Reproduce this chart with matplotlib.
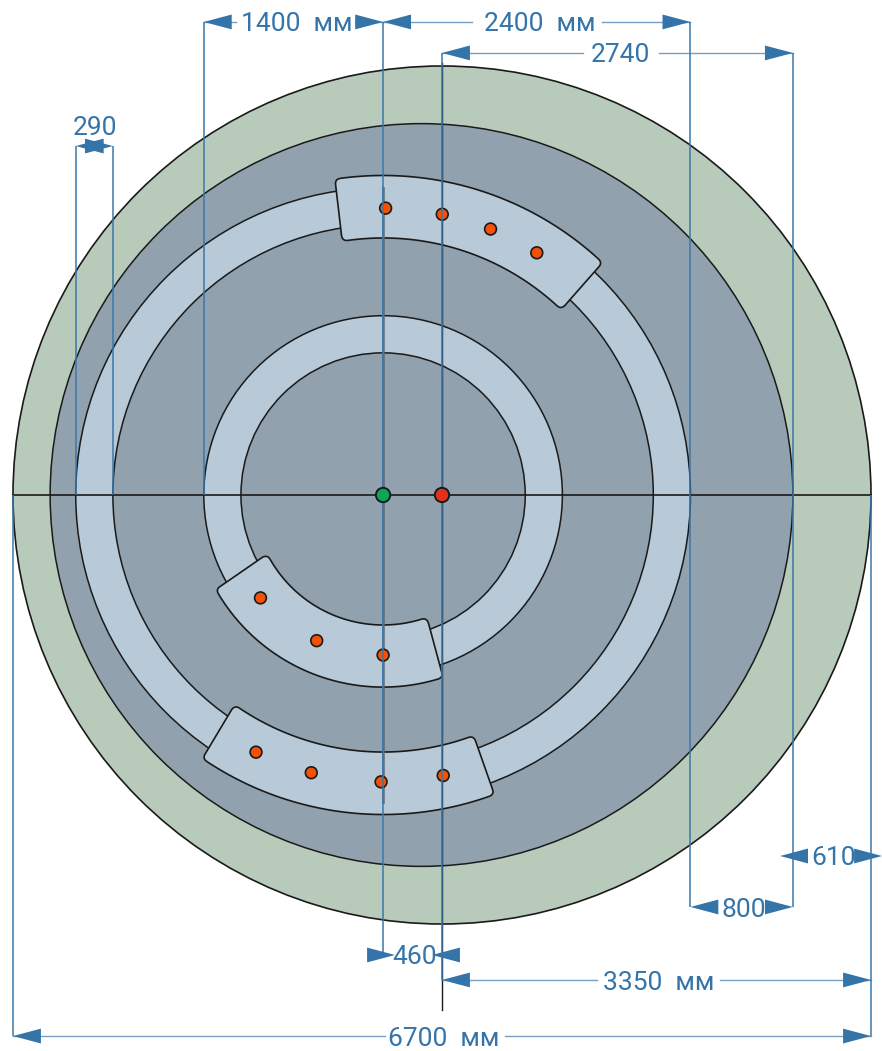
# plot.py - ring layout drawing with dimensions, all lengths in mm

import numpy as np
import matplotlib.pyplot as plt
from matplotlib.patches import Circle, Polygon

# Circles: offset of centre from the main axis, radius
pool_x, pool_r = 0, 3350
floor_x, floor_r = -160, 2900
ring_x = -460
outer_ring_radii = (2400, 2110)
inner_ring_radii = (1400, 1110)

# Segments on rings: r outer, r inner, end angles on outer and inner edge
segment_r_out = [2495, 2495, 1500]
segment_r_in = [2007, 2007, 1015]
segment_a0_out = [46.6, 235.5, 209.3]
segment_a0_in = [46.2, 234.8, 207.3]
segment_a1_out = [98.7, 290.4, 288.3]
segment_a1_in = [99.1, 290.6, 289.5]

# Holes on segments, polar around ring centre
hole_r = [2240] * 8 + [1250] * 3
hole_angle = [89.5, 78.1, 68.0, 57.6, 243.7, 255.5, 269.6, 282.1, 220.0, 245.5, 270.0]

# Dimensions
dim_labels = ["1400 мм", "2400 мм", "2740", "290", "610", "800", "460", "3350 мм", "6700 мм"]
dim_y = [3694, 3694, 3452, 2725, -2819, -3217, -3592, -3787, -4225]
dim_tip_left = [-1860, -460, 0, -2860, 2640, 1940, -367, 0, -3350]
dim_tip_right = [-460, 1940, 2740, -2570, 3436, 2740, -78, 3350, 3350]
dim_dir_left = [-1, -1, -1, -1, -1, -1, 1, -1, -1]
dim_dir_right = [1, 1, 1, 1, 1, 1, -1, 1, 1]
dim_text_x = [-1132, 765, 1390, -2710, 3061, 2354, -211, 1695, 16]
dim_text_y = [3680, 3680, 3435, 2865, -2835, -3240, -3605, -3810, -4245]
dim_gap_left = [-1609, 234, 1101, None, None, None, None, 1210, -445]
dim_gap_right = [-679, 1249, 1695, None, None, None, None, 2171, 492]

# Extension lines: x, y from, y to
ext_x = [-3350, 3350, -2860, -2570, -1860, -460, 0, 1940, 2740]
ext_y0 = [0, 0, 0, 0, 0, -3592, -3787, -3217, -3217]
ext_y1 = [-4225, -4225, 2725, 2725, 3694, 3694, 3452, 3694, 3452]

BLUE = "#3574a9"
LINE = "#3a78ab"
RING = "#b8cad8"
FLOOR = "#91a1ad"
POOL = "#b8cbbb"
INK = "#1a1a1a"
S = 858 / 6700  # px per mm

plt.rcParams["font.family"] = ["Roboto", "Liberation Sans", "DejaVu Sans"]


def segment_path(r_out, r_in, a0_out, a0_in, a1_out, a1_in, corner=45):
    # ring sector with rounded corners
    da_out = np.degrees(corner / r_out)
    da_in = np.degrees(corner / r_in)
    pol = lambda r, a: (r * np.cos(np.radians(a)) + ring_x, r * np.sin(np.radians(a)))

    def round_corner(p0, c, p1):
        t = np.linspace(0, 1, 8)[:, None]
        p0, c, p1 = map(np.array, (p0, c, p1))
        return list((1 - t) ** 2 * p0 + 2 * t * (1 - t) * c + t**2 * p1)

    pts = []
    for a in np.linspace(a0_out + da_out, a1_out - da_out, 80):
        pts.append(pol(r_out, a))
    pts += round_corner(pol(r_out, a1_out - da_out), pol(r_out, a1_out), pol(r_out - corner, a1_out))
    pts += round_corner(pol(r_in + corner, a1_in), pol(r_in, a1_in), pol(r_in, a1_in - da_in))
    for a in np.linspace(a1_in - da_in, a0_in + da_in, 80):
        pts.append(pol(r_in, a))
    pts += round_corner(pol(r_in, a0_in + da_in), pol(r_in, a0_in), pol(r_in + corner, a0_in))
    pts += round_corner(pol(r_out - corner, a0_out), pol(r_out, a0_out), pol(r_out, a0_out + da_out))
    return np.array(pts)


def arrow(ax, tip, y, direction, length=218, half=58):
    base = tip - direction * length
    ax.add_patch(Polygon([(tip, y), (base, y + half), (base, y - half)],
                         closed=True, fc=BLUE, ec="none", zorder=8))


fig = plt.figure(figsize=(8.82, 10.51), dpi=100)
ax = fig.add_axes([0, 0, 1, 1])
ax.set_xlim(-442 / S, 440 / S)
ax.set_ylim(-556 / S, 495 / S)
ax.axis("off")

ax.add_patch(Circle((pool_x, 0), pool_r, fc=POOL, ec=INK, lw=1.2, zorder=1))
ax.add_patch(Circle((floor_x, 0), floor_r, fc=FLOOR, ec=INK, lw=1.1, zorder=1.1))
z = 1.2
for r_o, r_i in (outer_ring_radii, inner_ring_radii):
    ax.add_patch(Circle((ring_x, 0), r_o, fc=RING, ec=INK, lw=1.1, zorder=z))
    ax.add_patch(Circle((ring_x, 0), r_i, fc=FLOOR, ec=INK, lw=1.1, zorder=z + 0.01))
    z += 0.1

for i in range(len(segment_r_out)):
    outline = segment_path(segment_r_out[i], segment_r_in[i], segment_a0_out[i], segment_a0_in[i],
                           segment_a1_out[i], segment_a1_in[i])
    ax.add_patch(Polygon(outline, closed=True, fc=RING, ec=INK, lw=1.2, zorder=2))

# Centre lines
ax.plot([-3350, 3350], [0, 0], color=INK, lw=1.2, zorder=3)
ax.plot([ring_x, ring_x], [2400, -2400], color="#55677a", lw=2.0, alpha=0.8, zorder=3)
ax.plot([0, 0], [3370, -4021], color=INK, lw=1.0, zorder=3)

# Holes
for r, a in zip(hole_r, hole_angle):
    hx = ring_x + r * np.cos(np.radians(a))
    hy = r * np.sin(np.radians(a))
    ax.add_patch(Circle((hx, hy), 46, fc="#f35205", ec=INK, lw=1.2, zorder=4))

# Extension lines
for x, y0, y1 in zip(ext_x, ext_y0, ext_y1):
    ax.plot([x, x], [y0, y1], color=LINE, lw=1.1, zorder=5, solid_capstyle="butt")

# Dimension lines, arrows and labels
for i, label in enumerate(dim_labels):
    y = dim_y[i]
    if dim_gap_left[i] is not None:
        ax.plot([dim_tip_left[i], dim_gap_left[i]], [y, y], color=LINE, lw=1.0, alpha=0.7, zorder=5)
        ax.plot([dim_gap_right[i], dim_tip_right[i]], [y, y], color=LINE, lw=1.0, alpha=0.7, zorder=5)
    arrow(ax, dim_tip_left[i], y, dim_dir_left[i])
    arrow(ax, dim_tip_right[i], y, dim_dir_right[i])
    ax.text(dim_text_x[i], dim_text_y[i], label.replace(" ", "  "), color=BLUE, fontsize=19,
            ha="center", va="center", zorder=9)

# Centre marks
ax.add_patch(Circle((ring_x, 0), 56, fc="#0aa75a", ec=INK, lw=1.4, zorder=7))
ax.add_patch(Circle((0, 0), 56, fc="#e5301b", ec=INK, lw=1.4, zorder=7))

fig.savefig("out.png", dpi=100)
